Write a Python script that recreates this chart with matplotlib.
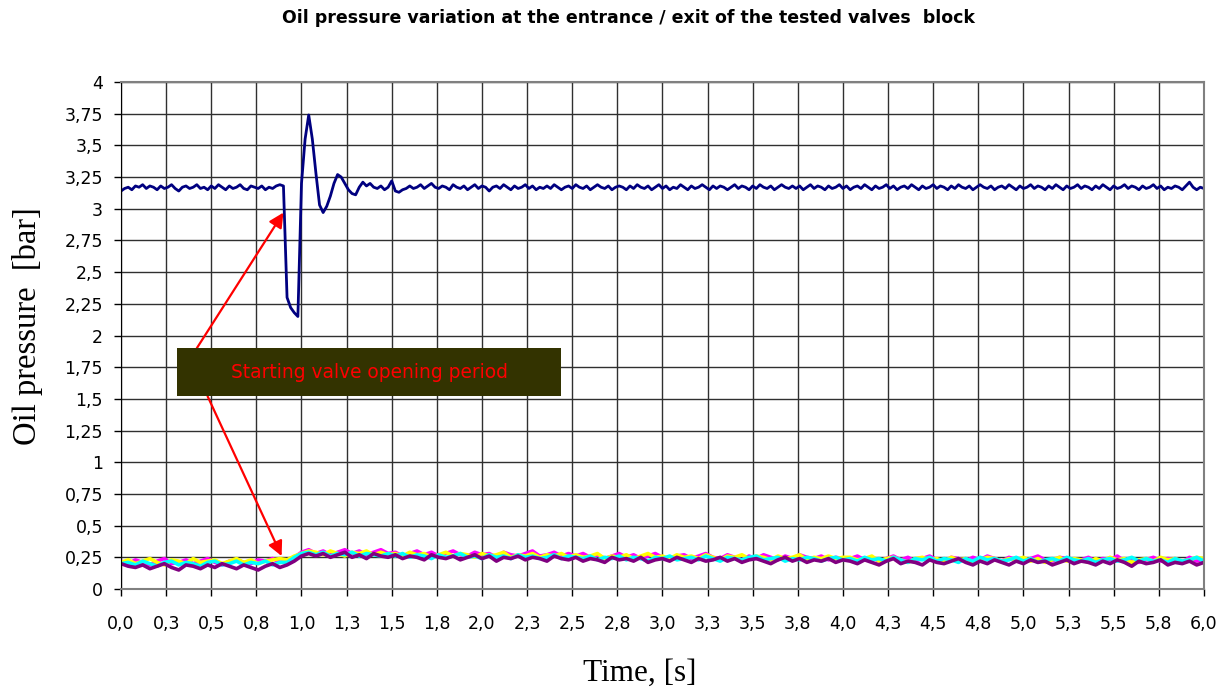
import numpy as np
import matplotlib
matplotlib.use("Agg")
import matplotlib.pyplot as plt
from matplotlib.patches import Rectangle

# --- data ---
# inlet pressure [bar], sampled every 0.02 s from 0 to 6 s
inlet_pressure = [
    3.14, 3.16, 3.17, 3.15, 3.18, 3.17, 3.19, 3.16, 3.18, 3.17,
    3.15, 3.18, 3.16, 3.17, 3.19, 3.16, 3.14, 3.17, 3.18, 3.16,
    3.17, 3.19, 3.16, 3.17, 3.15, 3.18, 3.16, 3.19, 3.17, 3.15,
    3.18, 3.16, 3.17, 3.19, 3.16, 3.15, 3.18, 3.17, 3.16, 3.18,
    3.15, 3.17, 3.16, 3.18, 3.19, 3.18,
    2.30, 2.22, 2.18, 2.15, 3.20, 3.55, 3.74, 3.55, 3.28, 3.03,
    2.97, 3.02, 3.10, 3.20, 3.27, 3.25, 3.20, 3.15, 3.12, 3.11,
    3.17, 3.21,
    3.18, 3.20, 3.17, 3.16, 3.18, 3.15, 3.17, 3.22, 3.14, 3.13,
    3.15, 3.16, 3.18, 3.16, 3.17, 3.19, 3.16, 3.18, 3.20, 3.17,
    3.16, 3.18, 3.17, 3.15, 3.19, 3.17, 3.16, 3.18, 3.15, 3.17,
    3.19, 3.16, 3.18, 3.17, 3.14, 3.17, 3.18, 3.16, 3.19, 3.17,
    3.15, 3.18, 3.16, 3.17, 3.19, 3.16, 3.18, 3.15, 3.17, 3.16,
    3.18, 3.16, 3.19, 3.17, 3.15, 3.17, 3.18, 3.16, 3.19, 3.17,
    3.16, 3.18, 3.15, 3.17, 3.19, 3.17, 3.16, 3.18, 3.15, 3.17,
    3.18, 3.17, 3.15, 3.18, 3.16, 3.19, 3.17, 3.16, 3.18, 3.15,
    3.17, 3.19, 3.16, 3.18, 3.15, 3.17, 3.16, 3.19, 3.17, 3.15,
    3.18, 3.16, 3.17, 3.19, 3.17, 3.15, 3.18, 3.16, 3.18, 3.17,
    3.15, 3.17, 3.19, 3.16, 3.18, 3.17, 3.15, 3.18, 3.16, 3.19,
    3.17, 3.16, 3.18, 3.15, 3.17, 3.19, 3.17, 3.16, 3.18, 3.16,
    3.18, 3.15, 3.17, 3.19, 3.16, 3.18, 3.17, 3.15, 3.18, 3.16,
    3.17, 3.19, 3.16, 3.18, 3.15, 3.17, 3.18, 3.16, 3.19, 3.17,
    3.15, 3.18, 3.16, 3.17, 3.19, 3.16, 3.18, 3.15, 3.17, 3.18,
    3.16, 3.19, 3.17, 3.15, 3.18, 3.16, 3.17, 3.19, 3.16, 3.18,
    3.17, 3.15, 3.18, 3.16, 3.19, 3.17, 3.16, 3.18, 3.15, 3.17,
    3.19, 3.17, 3.16, 3.18, 3.15, 3.17, 3.18, 3.16, 3.19, 3.17,
    3.15, 3.18, 3.16, 3.17, 3.19, 3.16, 3.18, 3.17, 3.15, 3.18,
    3.16, 3.19, 3.17, 3.15, 3.18, 3.16, 3.17, 3.19, 3.16, 3.18,
    3.17, 3.15, 3.18, 3.16, 3.19, 3.17, 3.15, 3.18, 3.16, 3.17,
    3.19, 3.16, 3.18, 3.17, 3.15, 3.18, 3.16, 3.17, 3.19, 3.16,
    3.18, 3.15, 3.17, 3.16, 3.18, 3.17, 3.15, 3.18, 3.21, 3.17,
    3.15, 3.17, 3.16,
]

# outlet pressures [bar], sampled every 0.04 s from 0 to 6 s
outlet_magenta = [
    0.22, 0.20, 0.23, 0.21, 0.19, 0.22, 0.24, 0.20, 0.21, 0.23, 0.20, 0.22,
    0.24, 0.21, 0.19, 0.22, 0.23, 0.21, 0.20, 0.23, 0.22, 0.24, 0.21,
    0.22, 0.25, 0.29, 0.31,
    0.28, 0.30, 0.27, 0.29, 0.31, 0.28, 0.30, 0.27, 0.29, 0.31, 0.28,
    0.29, 0.26, 0.28, 0.30, 0.27, 0.29, 0.26, 0.28, 0.30, 0.27, 0.26, 0.29,
    0.27, 0.28, 0.25, 0.29, 0.27, 0.26, 0.28, 0.30, 0.26, 0.27, 0.29, 0.26, 0.28,
    0.26, 0.28, 0.25, 0.27, 0.24, 0.26, 0.28, 0.25, 0.27, 0.24, 0.26, 0.28,
    0.25, 0.23, 0.26, 0.27, 0.24, 0.26, 0.28, 0.25, 0.24, 0.27, 0.25, 0.23,
    0.26, 0.24, 0.27, 0.25, 0.23, 0.26, 0.24, 0.27, 0.25, 0.24, 0.26, 0.23,
    0.25, 0.24,
    0.24, 0.26, 0.23, 0.25, 0.22, 0.24, 0.26, 0.23, 0.25, 0.22, 0.24, 0.26,
    0.23, 0.21, 0.25, 0.24, 0.22, 0.25, 0.23, 0.26, 0.24, 0.22, 0.25, 0.23,
    0.21, 0.24, 0.26, 0.23, 0.22, 0.25, 0.24, 0.21, 0.23, 0.25, 0.22, 0.24,
    0.23, 0.26, 0.22, 0.24, 0.21, 0.23, 0.25, 0.22, 0.24, 0.23, 0.21, 0.25,
    0.22, 0.24,
]
outlet_yellow = [
    0.21, 0.23, 0.20, 0.22, 0.24, 0.21, 0.19, 0.23, 0.22, 0.20, 0.24, 0.21,
    0.22, 0.23, 0.20, 0.22, 0.24, 0.21, 0.23, 0.20, 0.22, 0.23, 0.24,
    0.23, 0.26, 0.28, 0.30,
    0.29, 0.27, 0.30, 0.28, 0.26, 0.29, 0.28, 0.30, 0.27, 0.29, 0.27,
    0.28, 0.26, 0.29, 0.27, 0.28, 0.25, 0.27, 0.29, 0.26, 0.28, 0.27, 0.25,
    0.28, 0.26, 0.27, 0.29, 0.25, 0.27, 0.26, 0.28, 0.25, 0.27, 0.26, 0.28, 0.25,
    0.27, 0.25, 0.26, 0.28, 0.24, 0.26, 0.25, 0.27, 0.24, 0.26, 0.28, 0.25,
    0.26, 0.24, 0.27, 0.25, 0.26, 0.24, 0.27, 0.25, 0.23, 0.26, 0.25, 0.27,
    0.24, 0.26, 0.25, 0.23, 0.26, 0.24, 0.25, 0.27, 0.23, 0.25, 0.24, 0.26,
    0.24, 0.25,
    0.25, 0.23, 0.24, 0.26, 0.22, 0.24, 0.25, 0.23, 0.21, 0.24, 0.25, 0.23,
    0.24, 0.22, 0.25, 0.23, 0.24, 0.21, 0.23, 0.25, 0.24, 0.22, 0.24, 0.23,
    0.25, 0.22, 0.24, 0.21, 0.23, 0.25, 0.22, 0.24, 0.23, 0.21, 0.24, 0.22,
    0.25, 0.23, 0.24, 0.21, 0.23, 0.24, 0.22, 0.25, 0.23, 0.24, 0.22, 0.23,
    0.25, 0.24,
]
outlet_cyan = [
    0.20, 0.21, 0.19, 0.22, 0.20, 0.18, 0.21, 0.22, 0.19, 0.21, 0.20, 0.18,
    0.21, 0.22, 0.19, 0.20, 0.22, 0.19, 0.21, 0.20, 0.22, 0.19, 0.21,
    0.21, 0.25, 0.28, 0.29,
    0.27, 0.29, 0.26, 0.28, 0.27, 0.29, 0.26, 0.28, 0.27, 0.26, 0.28,
    0.26, 0.28, 0.25, 0.27, 0.26, 0.24, 0.27, 0.25, 0.26, 0.28, 0.25, 0.26,
    0.24, 0.27, 0.25, 0.26, 0.24, 0.27, 0.25, 0.26, 0.24, 0.25, 0.27, 0.24, 0.26,
    0.25, 0.24, 0.26, 0.23, 0.25, 0.24, 0.26, 0.23, 0.25, 0.24, 0.22, 0.25,
    0.24, 0.26, 0.23, 0.24, 0.25, 0.23, 0.26, 0.24, 0.22, 0.25, 0.24, 0.23,
    0.25, 0.26, 0.23, 0.24, 0.25, 0.22, 0.24, 0.23, 0.25, 0.24, 0.22, 0.24,
    0.25, 0.23,
    0.24, 0.22, 0.25, 0.23, 0.24, 0.22, 0.25, 0.23, 0.21, 0.24, 0.23, 0.25,
    0.22, 0.24, 0.23, 0.21, 0.24, 0.22, 0.25, 0.23, 0.24, 0.22, 0.23, 0.25,
    0.22, 0.24, 0.21, 0.23, 0.24, 0.22, 0.25, 0.23, 0.22, 0.24, 0.21, 0.23,
    0.24, 0.22, 0.23, 0.25, 0.22, 0.24, 0.22, 0.23, 0.21, 0.24, 0.22, 0.23,
    0.25, 0.22,
]
outlet_purple = [
    0.20, 0.18, 0.17, 0.19, 0.16, 0.18, 0.20, 0.17, 0.15, 0.19, 0.18, 0.16,
    0.19, 0.17, 0.20, 0.18, 0.16, 0.19, 0.17, 0.15, 0.18, 0.20, 0.17,
    0.19, 0.22, 0.26, 0.28,
    0.26, 0.28, 0.25, 0.27, 0.29, 0.25, 0.27, 0.24, 0.28, 0.26, 0.25,
    0.27, 0.24, 0.26, 0.25, 0.23, 0.27, 0.25, 0.24, 0.26, 0.23, 0.25, 0.27,
    0.24, 0.26, 0.22, 0.25, 0.24, 0.26, 0.23, 0.25, 0.24, 0.22, 0.26, 0.24, 0.23,
    0.25, 0.22, 0.24, 0.23, 0.21, 0.25, 0.23, 0.24, 0.22, 0.25, 0.21, 0.23,
    0.24, 0.22, 0.25, 0.23, 0.21, 0.24, 0.22, 0.23, 0.25, 0.22, 0.24, 0.21,
    0.23, 0.24, 0.22, 0.20, 0.23, 0.25, 0.22, 0.24, 0.21, 0.23, 0.22, 0.24,
    0.21, 0.23,
    0.22, 0.20, 0.23, 0.21, 0.19, 0.22, 0.24, 0.20, 0.22, 0.21, 0.19, 0.23,
    0.21, 0.20, 0.22, 0.24, 0.21, 0.19, 0.22, 0.20, 0.23, 0.21, 0.19, 0.22,
    0.20, 0.23, 0.21, 0.22, 0.19, 0.21, 0.23, 0.20, 0.22, 0.21, 0.19, 0.22,
    0.20, 0.23, 0.21, 0.18, 0.22, 0.20, 0.21, 0.23, 0.19, 0.21, 0.20, 0.22,
    0.19, 0.21,
]

x_ticks = np.arange(0, 6.01, 0.25)
x_tick_labels = ["0,0", "0,3", "0,5", "0,8", "1,0", "1,3", "1,5", "1,8", "2,0",
                 "2,3", "2,5", "2,8", "3,0", "3,3", "3,5", "3,8", "4,0", "4,3",
                 "4,5", "4,8", "5,0", "5,3", "5,5", "5,8", "6,0"]
y_ticks = np.arange(0, 4.01, 0.25)
y_tick_labels = ["0", "0,25", "0,5", "0,75", "1", "1,25", "1,5", "1,75", "2",
                 "2,25", "2,5", "2,75", "3", "3,25", "3,5", "3,75", "4"]

# annotation: box (x0, x1, y0, y1) and arrows (start -> tip)
note_text = "Starting valve opening period"
note_box = (0.31, 2.44, 1.52, 1.90)
arrow_upper = ((0.42, 1.90), (0.90, 2.97))
arrow_lower = ((0.48, 1.52), (0.89, 0.26))

fig = plt.figure(figsize=(12.31, 6.91), dpi=100)
ax = fig.add_axes([0.0983, 0.1476, 0.8797, 0.7337])

series = [
    (inlet_pressure, "#000080", 2.0),
    (outlet_magenta, "#FF00FF", 2.6),
    (outlet_yellow, "#FFFF00", 2.6),
    (outlet_cyan, "#00FFFF", 2.6),
    (outlet_purple, "#800080", 2.6),
]
for values, color, lw in series:
    t = np.linspace(0, 6, len(values))
    ax.plot(t, values, color=color, lw=lw, zorder=2)

ax.set_xlim(0, 6)
ax.set_ylim(0, 4)
ax.set_xticks(x_ticks)
ax.set_xticklabels(x_tick_labels)
ax.set_yticks(y_ticks)
ax.set_yticklabels(y_tick_labels)
ax.tick_params(axis="both", direction="out", length=5, width=1, labelsize=12.5)
ax.tick_params(axis="x", pad=14)
ax.tick_params(axis="y", pad=8)
ax.grid(True, color="#303030", lw=1)
ax.set_axisbelow(True)
for side in ["top", "right", "bottom"]:
    ax.spines[side].set_color("#808080")
    ax.spines[side].set_linewidth(1.5)
ax.spines["left"].set_color("black")

# annotation box and arrows
bx0, bx1, by0, by1 = note_box
ax.add_patch(Rectangle((bx0, by0), bx1 - bx0, by1 - by0, facecolor="#333300",
                       edgecolor="none", zorder=4))
ax.text((bx0 + bx1) / 2, (by0 + by1) / 2, note_text, color="#FF0000",
        fontsize=13.4, ha="center", va="center", zorder=5)
for start, tip in [arrow_upper, arrow_lower]:
    ax.annotate("", xy=tip, xytext=start, zorder=3,
                arrowprops=dict(arrowstyle="-|>", color="red", lw=1.6,
                                mutation_scale=22, shrinkA=0, shrinkB=0))

fig.text(0.5106, 0.974, "Oil pressure variation at the entrance / exit of the tested valves  block",
         ha="center", va="center", fontsize=12.5, fontweight="bold")
fig.text(0.52, 0.026, "Time, [s]", ha="center", va="center", fontsize=22.5,
         family="Liberation Serif")
fig.text(0.022, 0.528, "Oil pressure  [bar]", ha="center", va="center",
         fontsize=23.5, rotation=90, family="Liberation Serif")

fig.savefig("out.png", dpi=100)
